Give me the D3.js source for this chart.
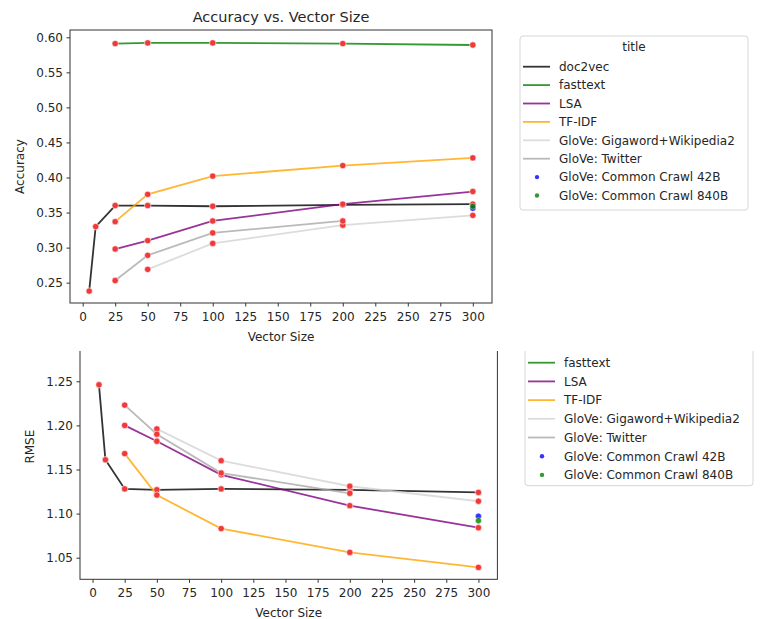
<!DOCTYPE html>
<html>
<head>
<meta charset="utf-8">
<script src="https://cdn.jsdelivr.net/npm/d3@7"></script>
<style>
body { margin: 0; background: #fff; }
svg text { font-family: "DejaVu Sans", sans-serif; fill: #262626; }
</style>
</head>
<body>
<div id="chart"></div>
<script>
// vector sizes used by each model
var doc2vecSizes = [5, 10, 25, 50, 100, 200, 300];
var fasttextSizes = [25, 50, 100, 200, 300];
var lsaSizes = [25, 50, 100, 200, 300];
var tfidfSizes = [25, 50, 100, 200, 300];
var gigawordSizes = [50, 100, 200, 300];
var twitterSizes = [25, 50, 100, 200];
var crawlSizes = [300];

// accuracy (top chart)
var doc2vecAcc = [0.238, 0.330, 0.360, 0.360, 0.359, 0.361, 0.362];
var fasttextAcc = [0.591, 0.592, 0.592, 0.591, 0.589];
var lsaAcc = [0.298, 0.310, 0.338, 0.362, 0.380];
var tfidfAcc = [0.337, 0.376, 0.402, 0.417, 0.428];
var gigawordAcc = [0.269, 0.306, 0.332, 0.346];
var twitterAcc = [0.253, 0.289, 0.321, 0.338];
var crawl42Acc = [0.356];
var crawl840Acc = [0.359];

// rmse (bottom chart) - no fasttext line there
var doc2vecRmse = [1.246, 1.161, 1.128, 1.127, 1.128, 1.127, 1.124];
var fasttextRmse = [];
var lsaRmse = [1.200, 1.182, 1.144, 1.109, 1.084];
var tfidfRmse = [1.168, 1.121, 1.083, 1.056, 1.039];
var gigawordRmse = [1.196, 1.160, 1.131, 1.114];
var twitterRmse = [1.223, 1.190, 1.146, 1.123];
var crawl42Rmse = [1.097];
var crawl840Rmse = [1.092];

var names = ["doc2vec", "fasttext", "LSA", "TF-IDF", "GloVe: Gigaword+Wikipedia2",
             "GloVe: Twitter", "GloVe: Common Crawl 42B", "GloVe: Common Crawl 840B"];
var colors = ["black", "green", "purple", "orange", "lightgray", "darkgray", "blue", "green"];

var xTicks = [0, 25, 50, 75, 100, 125, 150, 175, 200, 225, 250, 275, 300];
var accTicks = [0.25, 0.30, 0.35, 0.40, 0.45, 0.50, 0.55, 0.60];
var rmseTicks = [1.05, 1.10, 1.15, 1.20, 1.25];

var series = [
    {sizes: doc2vecSizes, acc: doc2vecAcc, rmse: doc2vecRmse, kind: "line"},
    {sizes: fasttextSizes, acc: fasttextAcc, rmse: fasttextRmse, kind: "line"},
    {sizes: lsaSizes, acc: lsaAcc, rmse: lsaRmse, kind: "line"},
    {sizes: tfidfSizes, acc: tfidfAcc, rmse: tfidfRmse, kind: "line"},
    {sizes: gigawordSizes, acc: gigawordAcc, rmse: gigawordRmse, kind: "line"},
    {sizes: twitterSizes, acc: twitterAcc, rmse: twitterRmse, kind: "line"},
    {sizes: crawlSizes, acc: crawl42Acc, rmse: crawl42Rmse, kind: "dot"},
    {sizes: crawlSizes, acc: crawl840Acc, rmse: crawl840Rmse, kind: "dot"}
];
series.forEach(function(s, i) { s.name = names[i]; s.color = colors[i]; });

var svg = d3.select("#chart").append("svg")
    .attr("width", 760)
    .attr("height", 619);

function drawPanel(g, cfg) {
    var x = d3.scaleLinear().domain([-9.75, 314.75]).range([cfg.left, cfg.right]);
    var y = d3.scaleLinear().domain(cfg.yDomain).range([cfg.bottom, cfg.top]);

    var line = d3.line()
        .x(function(d) { return x(d[0]); })
        .y(function(d) { return y(d[1]); });

    var lines = series.filter(function(s) { return s.kind == "line"; });
    var dots = series.filter(function(s) { return s.kind == "dot"; });

    g.selectAll(".ln")
        .data(lines)
        .enter()
        .append("path")
        .attr("d", function(s) {
            return line(d3.zip(s.sizes, s[cfg.key]));
        })
        .attr("fill", "none")
        .attr("stroke", function(s) { return s.color; })
        .attr("stroke-opacity", 0.8)
        .attr("stroke-width", 1.8);

    // red markers on every line point
    var pts = [];
    lines.forEach(function(s) {
        s[cfg.key].forEach(function(v, i) { pts.push([s.sizes[i], v]); });
    });
    g.selectAll(".pt")
        .data(pts)
        .enter()
        .append("circle")
        .attr("cx", function(d) { return x(d[0]); })
        .attr("cy", function(d) { return y(d[1]); })
        .attr("r", 3.2)
        .attr("fill", "#f03a3a")
        .attr("stroke", "white")
        .attr("stroke-width", 0.6);

    dots.forEach(function(s) {
        g.selectAll(null)
            .data(d3.zip(s.sizes, s[cfg.key]))
            .enter()
            .append("circle")
            .attr("cx", function(d) { return x(d[0]); })
            .attr("cy", function(d) { return y(d[1]); })
            .attr("r", 3)
            .attr("fill", s.color)
            .attr("fill-opacity", 0.8)
            .attr("stroke", "white")
            .attr("stroke-width", 0.4);
    });

    var xAxis = d3.axisBottom(x).tickValues(xTicks).tickSize(3.5).tickPadding(5.5)
        .tickFormat(d3.format("d"));
    var yAxis = d3.axisLeft(y).tickValues(cfg.yTicks).tickSize(3.5).tickPadding(3.5)
        .tickFormat(d3.format(".2f"));

    var gx = g.append("g").attr("transform", "translate(0," + cfg.bottom + ")").call(xAxis);
    var gy = g.append("g").attr("transform", "translate(" + cfg.left + ",0)").call(yAxis);
    [gx, gy].forEach(function(a) {
        a.select(".domain").remove();
        a.selectAll("line").attr("stroke", "#333");
        a.selectAll("text").attr("font-size", 12).style("fill", "#262626");
    });

    // frame
    g.append("rect")
        .attr("x", cfg.left)
        .attr("y", cfg.top)
        .attr("width", cfg.right - cfg.left)
        .attr("height", cfg.bottom - cfg.top)
        .attr("fill", "none")
        .attr("stroke", "#333")
        .attr("stroke-width", 1);

    g.append("text")
        .attr("x", (cfg.left + cfg.right) / 2)
        .attr("y", cfg.bottom + 38)
        .attr("text-anchor", "middle")
        .attr("font-size", 12)
        .text("Vector Size");

    g.append("text")
        .attr("transform", "translate(" + cfg.yLabelX + "," + ((cfg.top + cfg.bottom) / 2) + ") rotate(-90)")
        .attr("text-anchor", "middle")
        .attr("font-size", 12)
        .text(cfg.yLabel);

    if (cfg.title) {
        g.append("text")
            .attr("x", (cfg.left + cfg.right) / 2)
            .attr("y", cfg.top - 8)
            .attr("text-anchor", "middle")
            .attr("font-size", 14.5)
            .text(cfg.title);
    }

    // legend
    var L = cfg.legend;
    g.append("rect")
        .attr("x", L.x)
        .attr("y", L.y)
        .attr("width", L.w)
        .attr("height", L.h)
        .attr("rx", 3)
        .attr("fill", "white")
        .attr("stroke", "#d6d6d6");
    g.append("text")
        .attr("x", L.x + L.w / 2)
        .attr("y", L.y + 15)
        .attr("text-anchor", "middle")
        .attr("font-size", 12)
        .text("title");
    series.forEach(function(s, i) {
        var yy = L.first + i * L.step;
        if (s.kind == "line") {
            g.append("line")
                .attr("x1", L.x + 3).attr("x2", L.x + 30)
                .attr("y1", yy).attr("y2", yy)
                .attr("stroke", s.color)
                .attr("stroke-opacity", 0.8)
                .attr("stroke-width", 1.8);
        } else {
            g.append("circle")
                .attr("cx", L.x + 17).attr("cy", yy)
                .attr("r", 2.2)
                .attr("fill", s.color)
                .attr("fill-opacity", 0.8);
        }
        g.append("text")
            .attr("x", L.x + 39)
            .attr("y", yy + 4.3)
            .attr("font-size", 12)
            .text(s.name);
    });
}

// top chart
drawPanel(svg.append("g"), {
    key: "acc", left: 70, right: 492, top: 30, bottom: 303,
    yDomain: [0.221, 0.6104], yTicks: accTicks, yLabel: "Accuracy", yLabelX: 24,
    title: "Accuracy vs. Vector Size",
    legend: {x: 520, y: 36, w: 228, h: 174, first: 66.7, step: 18.4}
});

// bottom chart, its top part is cut off
svg.append("clipPath").attr("id", "cut")
    .append("rect").attr("x", 0).attr("y", 351).attr("width", 760).attr("height", 268);

drawPanel(svg.append("g").attr("clip-path", "url(#cut)"), {
    key: "rmse", left: 80, right: 497.4, top: 314, bottom: 579.3,
    yDomain: [1.0255, 1.3263], yTicks: rmseTicks, yLabel: "RMSE", yLabelX: 34,
    title: null,
    legend: {x: 525, y: 311, w: 228, h: 174.7, first: 344, step: 18.7}
});
</script>
</body>
</html>
